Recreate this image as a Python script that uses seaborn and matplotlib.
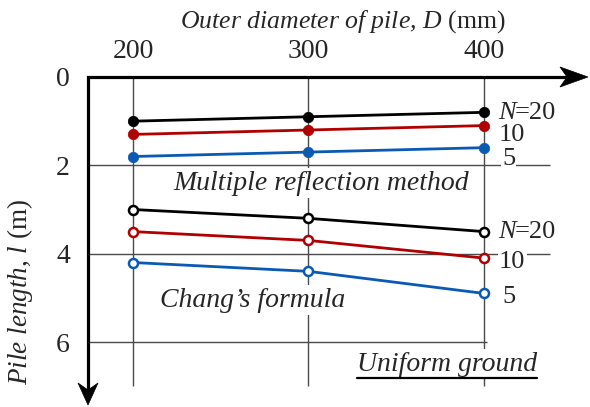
import matplotlib
matplotlib.use("Agg")
import matplotlib.pyplot as plt
from matplotlib.lines import Line2D
from matplotlib.patches import Polygon
import pandas as pd
import seaborn as sns

# Outer diameter of pile D (mm) and estimated pile length l (m)
diameters = [200, 300, 400]
n_levels = [20, 10, 5]
reflection_n20 = [1.0, 0.9, 0.8]
reflection_n10 = [1.3, 1.2, 1.1]
reflection_n5 = [1.8, 1.7, 1.6]
chang_n20 = [3.0, 3.2, 3.5]
chang_n10 = [3.5, 3.7, 4.1]
chang_n5 = [4.2, 4.4, 4.9]
x_ticks = [200, 300, 400]
y_ticks = [0, 2, 4, 6]

rows = []
for method, series in (("reflection", [reflection_n20, reflection_n10, reflection_n5]),
                       ("chang", [chang_n20, chang_n10, chang_n5])):
    for n, vals in zip(n_levels, series):
        for d, l in zip(diameters, vals):
            rows.append({"method": method, "N": n, "D": d, "l": l})
df = pd.DataFrame(rows)

sns.set_theme(style="white")
plt.rcParams["font.family"] = ["Liberation Serif", "DejaVu Serif"]
plt.rcParams["mathtext.fontset"] = "custom"
plt.rcParams["mathtext.rm"] = "Liberation Serif"
plt.rcParams["mathtext.it"] = "Liberation Serif:italic"

RED = "#b00000"
BLUE = "#0a5ab4"
palette = {20: "black", 10: RED, 5: BLUE}
GRID = "#4a4a4a"

W, H = 590, 407
fig = plt.figure(figsize=(W / 100, H / 100), dpi=100)
ax = fig.add_axes([88 / W, 2 / H, 500 / W, 328 / H])
ax.set_xlim(174.36, 459.3)
ax.set_ylim(7.426, 0)
for s in ax.spines.values():
    s.set_visible(False)

# grid
ax.vlines(x_ticks, 0, 7.0, color=GRID, lw=1.0, zorder=1)
ax.hlines([2, 4], 174.36, 437.6, color=GRID, lw=1.0, zorder=1)
ax.hlines([6], 174.36, 401.7, color=GRID, lw=1.0, zorder=1)

# multiple reflection method: filled markers
n0 = len(ax.lines)
sns.lineplot(data=df[df.method == "reflection"], x="D", y="l", hue="N",
             palette=palette, marker="o", markersize=7.5, lw=2.0,
             legend=False, ax=ax, zorder=3)
for ln in ax.lines[n0:]:
    ln.set_markeredgecolor(ln.get_color())
    ln.set_markerfacecolor(ln.get_color())
    ln.set_markeredgewidth(0.5)

# Chang's formula: open markers
n0 = len(ax.lines)
sns.lineplot(data=df[df.method == "chang"], x="D", y="l", hue="N",
             palette=palette, marker="o", markersize=6.5, lw=2.0,
             legend=False, ax=ax, zorder=3)
for ln in ax.lines[n0:]:
    ln.set_markeredgecolor(ln.get_color())
    ln.set_markerfacecolor("white")
    ln.set_markeredgewidth(1.8)

ax.set_xlabel("")
ax.set_ylabel("")
ax.xaxis.tick_top()
ax.set_xticks(x_ticks)
ax.set_yticks(y_ticks)
ax.tick_params(axis="both", length=0, labelsize=20)
ax.tick_params(axis="x", pad=9)
ax.tick_params(axis="y", pad=13)

# axis lines with arrow heads (figure pixel coordinates)
def px(x, y):
    return (x / 100, (H - y) / 100)

axis_line = Line2D([px(575, 77)[0], px(88, 77)[0], px(88, 77)[0]],
                   [px(575, 77)[1], px(88, 77)[1], px(88, 392)[1]],
                   transform=fig.dpi_scale_trans, color="black", lw=2.3,
                   solid_joinstyle="miter", solid_capstyle="butt")
fig.add_artist(axis_line)
fig.add_artist(Polygon([px(588, 77), px(560, 67), px(567, 77), px(560, 87)],
                       closed=True, transform=fig.dpi_scale_trans,
                       fc="black", ec="black", lw=0.5))
fig.add_artist(Polygon([px(88, 405), px(78, 383), px(88, 390), px(98, 383)],
                       closed=True, transform=fig.dpi_scale_trans,
                       fc="black", ec="black", lw=0.5))

# axis titles
fig.text(180 / W, 1 - 28 / H, "Outer diameter of pile, D $\\mathrm{(mm)}$",
         style="italic", fontsize=18.5, ha="left", va="baseline")
fig.text(20 / W, 1 - 292 / H, "Pile length, l $\\mathrm{(m)}$",
         style="italic", fontsize=19.5, ha="center", va="center", rotation=90)

box = dict(fc="white", ec="none", pad=2)
ax.text(307, 2.40, "Multiple reflection method", style="italic", fontsize=20,
        ha="center", va="center", bbox=box, zorder=4)
ax.text(268.4, 5.05, "Chang\u2019s formula", style="italic", fontsize=20,
        ha="center", va="center", bbox=box, zorder=4)
ug = ax.text(378.9, 6.50, "Uniform ground", style="italic", fontsize=20,
             ha="center", va="center", bbox=box, zorder=4)

# series labels at the right end of each curve
lab_box = dict(fc="white", ec="none", pad=1)
for y20, y10, y5 in ((0.815, 1.31, 1.86), (3.51, 4.19, 4.98)):
    nt = ax.text(408, y20, "N", style="italic", fontsize=19,
                 ha="left", va="center", bbox=lab_box, zorder=4)
    ax.annotate("=20", xy=(1, 0.5), xycoords=nt, xytext=(-1, 0),
                textcoords="offset points", fontsize=19,
                ha="left", va="center", zorder=4)
    ax.text(408.5, y10, "10", fontsize=19, ha="left", va="center",
            bbox=lab_box, zorder=4)
    ax.text(410.3, y5, "5", fontsize=19, ha="left", va="center",
            bbox=lab_box, zorder=4)

# underline for the ground condition note
fig.canvas.draw()
bb = ug.get_window_extent()
fig.add_artist(Line2D([bb.x0 / 100, bb.x1 / 100], [(bb.y0 - 1) / 100] * 2,
                      transform=fig.dpi_scale_trans, color="black", lw=1.6))

fig.savefig("out.png", dpi=100)
